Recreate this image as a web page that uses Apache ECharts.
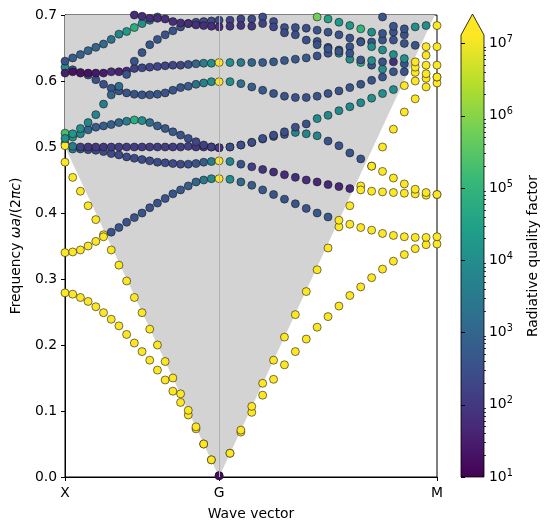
<!DOCTYPE html>
<html>
<head>
<meta charset="utf-8">
<script src="https://cdn.jsdelivr.net/npm/echarts@6/dist/echarts.min.js"></script>
<style>
  html, body { margin: 0; padding: 0; background: #fff; }
  #chart { width: 548px; height: 530px; }
</style>
</head>
<body>
<div id="chart"></div>
<script>
// k path X -> G -> M, 20 steps on each leg
const kNames = ["X", "G", "M"];
const stepsXG = 20, stepsGM = 20;
const lenXG = 0.5, lenGM = Math.SQRT1_2;
const kEnd = lenXG + lenGM;
const cbExponents = [1, 2, 3, 4, 5, 6, 7];
const QTOP = 7.12; // log10 of colour bar top

const N = null;
const Y = 8; // log10 Q above the colour range (guided modes)

// light line (frequency = |k|), in path coordinates
const lightLine = [[0, 0.5], [0.5, 0], [kEnd, lenGM]];

// band frequencies, 41 k points (index 20 = G)
const band1 = [0.279,0.277,0.272,0.266,0.258,0.249,0.239,0.229,0.216,0.203,0.190,0.177,0.162,0.147,0.130,0.113,0.094,0.073,0.050,0.026,0.002,
  0.036,0.068,0.098,0.124,0.148,0.170,0.190,0.209,0.227,0.243,0.259,0.275,0.288,0.302,0.315,0.327,0.337,0.346,0.352,0.353];
const band2 = [0.477,0.454,0.433,0.411,0.390,0.367,0.344,0.321,0.297,0.272,0.249,0.224,0.200,0.175,0.150,0.126,0.101,0.076,0.050,0.026,0.002,
  0.036,0.071,0.107,0.142,0.177,0.212,0.246,0.281,0.314,0.347,0.379,0.411,0.441,0.471,0.500,0.527,0.553,0.573,0.591,0.597];
const band3 = [0.340,0.341,0.344,0.350,0.357,0.364,0.371,0.378,0.386,0.393,0.400,0.408,0.415,0.422,0.429,0.435,0.441,0.447,0.450,0.452,0.452,
  0.451,0.447,0.442,0.435,0.428,0.421,0.414,0.407,0.400,0.394,0.389,0.383,0.378,0.374,0.369,0.366,0.364,0.363,0.363,0.364];
const band4 = [0.505,0.497,0.497,0.496,0.495,0.493,0.490,0.488,0.485,0.483,0.481,0.479,0.477,0.476,0.475,0.474,0.474,0.475,0.477,0.478,0.479,
  0.478,0.474,0.470,0.466,0.462,0.458,0.454,0.450,0.447,0.443,0.440,0.437,0.435,0.433,0.432,0.431,0.430,0.429,0.427,0.428];
const band5 = [0.502,0.501,0.500,0.500,0.500,0.500,0.500,0.500,0.500,0.500,0.500,0.500,0.500,0.500,0.500,0.500,0.501,0.500,0.500,0.500,0.499,
  0.500,0.503,0.507,0.512,0.516,0.519,0.522,0.520,0.517,0.509,0.502,0.491,0.482,0.471,0.463,0.453,0.444,0.436,0.431,0.428];
const band6 = [0.521,0.515,0.520,0.526,0.530,0.532,0.534,0.537,0.539,0.541,0.540,0.537,0.532,0.528,0.523,0.518,0.513,0.508,0.503,0.500,0.499,
  0.500,0.503,0.507,0.513,0.518,0.523,0.530,0.535,0.543,0.548,0.555,0.561,0.567,0.574,0.581,0.587,0.593,0.600,0.604,0.606];
const band7 = [0.621,0.617,0.613,0.609,0.602,0.595,0.589,0.585,0.582,0.580,0.579,0.579,0.580,0.582,0.586,0.590,0.592,0.595,0.597,0.599,0.599,
  0.599,0.596,0.591,0.586,0.581,0.577,0.575,0.575,0.577,0.581,0.585,0.590,0.595,0.601,0.606,0.614,0.614,0.613,0.611,0.606];
const band8 = [0.612,0.614,0.612,0.612,0.612,0.612,0.614,0.614,0.615,0.619,0.620,0.621,0.622,0.623,0.624,0.624,0.625,0.626,0.627,0.627,0.628,
  0.628,0.628,0.628,0.628,0.629,0.631,0.633,0.635,0.638,0.642,0.642,0.633,0.628,0.624,0.618,0.629,0.626,0.621,0.624,0.624];
const band9 = [0.513,0.520,0.528,0.537,0.549,0.565,0.579,0.592,0.610,0.630,0.643,0.655,0.663,0.670,0.676,0.682,0.687,0.689,0.690,0.691,0.692,
  0.692,0.694,0.694,0.697,0.690,0.681,0.681,0.680,0.677,0.674,0.670,0.665,0.660,0.659,0.662,0.674,0.670,N,N,N];
const band10 = [0.630,0.635,0.640,0.646,0.651,0.656,0.663,0.671,0.675,0.681,0.687,0.692,0.697,N,N,N,N,N,N,N,N,
  N,N,N,N,N,N,N,N,N,N,N,N,N,N,N,N,N,N,N,N];
const band11 = [N,N,N,N,N,N,N,N,N,0.700,0.698,0.695,0.695,0.694,0.690,0.688,0.687,0.685,0.684,0.683,0.682,
  0.683,0.684,0.683,0.687,0.682,0.673,0.670,0.662,0.660,0.651,0.647,0.652,0.659,0.652,0.647,0.662,0.657,0.654,0.652,0.652];
const band12 = [N,N,N,N,N,N,N,N,N,N,N,N,N,N,N,N,N,N,N,N,N,
  N,N,N,N,N,N,N,N,0.655,0.649,0.645,0.642,0.632,0.631,0.629,0.640,0.634,0.629,0.639,N];
const band13 = [N,N,N,N,N,N,N,N,N,N,N,N,N,N,N,N,N,N,N,N,N,
  N,N,N,N,N,N,N,N,0.697,0.694,0.689,0.684,0.679,0.674,0.672,0.683,0.679,0.682,0.684,0.684];
const band14 = [N,N,N,N,N,N,N,N,N,N,N,N,N,N,N,N,N,N,N,N,N,
  N,N,N,N,N,N,N,N,N,N,N,N,N,N,0.697,N,N,N,N,N];

// log10 radiative Q for the same points
const logQ1 = [Y,Y,Y,Y,Y,Y,Y,Y,Y,Y,Y,Y,Y,Y,Y,Y,Y,Y,Y,Y,1.2, Y,Y,Y,Y,Y,Y,Y,Y,Y,Y,Y,Y,Y,Y,Y,Y,Y,Y,Y,Y];
const logQ2 = [Y,Y,Y,Y,Y,Y,Y,Y,Y,Y,Y,Y,Y,Y,Y,Y,Y,Y,Y,Y,1.2, Y,Y,Y,Y,Y,Y,Y,Y,Y,Y,Y,Y,Y,Y,Y,Y,Y,Y,Y,Y];
const logQ3 = [Y,Y,Y,Y,Y,Y,2.6,2.6,2.6,2.6,2.6,2.6,2.6,2.6,2.6,2.7,2.8,3.0,3.4,3.9,Y,
  4.0,3.1,2.8,2.7,2.6,2.6,2.6,2.6,2.7,2.7,Y,Y,Y,Y,Y,Y,Y,Y,Y,Y];
const logQ4 = [3.8,3.6,2.8,2.5,2.4,2.4,2.4,2.4,2.4,2.4,2.4,2.4,2.4,2.4,2.4,2.4,2.5,2.6,2.8,3.6,Y,
  3.8,2.6,2.2,1.9,1.8,1.8,1.8,1.8,1.7,1.7,1.7,1.7,Y,Y,Y,Y,Y,Y,Y,Y];
const logQ5 = [Y,3.5,2.2,2.0,2.0,2.0,2.1,2.1,2.1,2.1,2.1,2.1,2.1,2.1,2.1,2.1,2.2,2.0,2.0,2.0,2.0,
  2.3,2.3,2.3,2.4,2.4,2.5,3.8,3.8,3.8,2.6,2.6,2.6,2.6,Y,Y,Y,Y,Y,Y,Y];
const logQ6 = [5.3,4.2,3.8,3.0,2.8,2.8,2.9,3.0,3.6,4.8,4.0,3.2,2.8,2.7,2.7,2.6,2.5,2.3,2.2,2.1,2.0,
  2.5,2.5,2.5,2.5,2.5,2.5,2.5,2.6,3.9,3.9,3.9,3.9,3.9,4.0,4.0,4.0,Y,Y,Y,Y];
const logQ7 = [4.0,3.0,2.6,2.6,2.5,2.5,2.6,2.6,2.6,2.6,2.6,2.6,2.6,2.6,2.6,2.6,2.8,3.2,3.6,4.0,Y,
  4.0,3.2,2.8,2.7,2.6,2.6,2.6,2.6,2.6,2.6,2.6,2.6,2.6,2.6,2.6,2.6,2.6,Y,Y,Y];
const logQ8 = [1.5,1.3,1.3,1.3,1.4,1.5,1.8,1.6,1.8,2.2,2.3,2.3,2.3,2.3,2.3,2.3,2.5,3.0,3.6,4.0,Y,
  4.0,3.5,3.0,2.8,2.7,2.7,2.7,2.7,2.6,2.6,4.0,4.0,5.0,2.6,4.0,1.8,2.6,Y,Y,Y];
const logQ9 = [4.0,4.2,4.0,3.8,3.8,3.5,3.0,3.2,2.6,2.6,2.6,2.6,2.6,2.6,2.6,2.5,2.5,2.4,2.4,2.4,2.4,
  2.3,2.3,2.4,2.5,2.5,2.5,2.5,2.5,2.6,2.6,2.6,2.6,2.6,2.6,2.6,2.6,2.6,N,N,N];
const logQ10 = [2.6,2.8,2.9,3.0,3.0,3.1,3.3,3.8,4.3,4.8,4.0,3.8,3.6,N,N,N,N,N,N,N,N,
  N,N,N,N,N,N,N,N,N,N,N,N,N,N,N,N,N,N,N,N];
const logQ11 = [N,N,N,N,N,N,N,N,N,1.8,1.8,1.8,1.8,1.8,1.8,1.8,1.8,1.8,1.8,1.8,1.8,
  1.9,1.9,2.0,2.2,2.3,2.4,2.5,2.5,2.6,2.6,2.6,2.6,2.6,4.0,4.0,2.6,2.6,2.6,Y,Y];
const logQ12 = [N,N,N,N,N,N,N,N,N,N,N,N,N,N,N,N,N,N,N,N,N,
  N,N,N,N,N,N,N,N,2.6,2.6,2.6,2.6,2.6,4.0,2.6,4.0,4.0,Y,Y,N];
const logQ13 = [N,N,N,N,N,N,N,N,N,N,N,N,N,N,N,N,N,N,N,N,N,
  N,N,N,N,N,N,N,N,5.8,4.5,4.2,4.2,5.0,4.0,2.6,2.6,2.6,4.0,4.0,Y];
const logQ14 = [N,N,N,N,N,N,N,N,N,N,N,N,N,N,N,N,N,N,N,N,N,
  N,N,N,N,N,N,N,N,N,N,N,N,N,N,2.6,N,N,N,N,N];

const bands = [band1, band2, band3, band4, band5, band6, band7, band8, band9, band10, band11, band12, band13, band14];
const logQs = [logQ1, logQ2, logQ3, logQ4, logQ5, logQ6, logQ7, logQ8, logQ9, logQ10, logQ11, logQ12, logQ13, logQ14];

const viridis = ["#440154", "#482878", "#3e4989", "#31688e", "#26828e",
  "#1f9e89", "#35b779", "#6ece58", "#b5de2b", "#fde725"];

function kAt(i) {
  return i <= stepsXG ? i * lenXG / stepsXG : lenXG + (i - stepsXG) * lenGM / stepsGM;
}

const chart = echarts.init(document.getElementById("chart"), null, { renderer: "canvas" });
const font = "DejaVu Sans";

const series = [{
  // light cone (grey above the light line)
  type: "line",
  data: lightLine,
  symbol: "none",
  silent: true,
  lineStyle: { width: 0 },
  areaStyle: { color: "#d3d3d3", opacity: 1, origin: "end" },
  z: 1,
  markLine: {
    silent: true,
    symbol: "none",
    label: { show: false },
    lineStyle: { color: "#b0b0b0", width: 1, type: "solid" },
    data: [{ xAxis: lenXG }],
  },
}];

bands.forEach((f, b) => {
  const data = [];
  f.forEach((v, i) => {
    if (v !== null) data.push([kAt(i), v, Math.min(logQs[b][i], QTOP)]);
  });
  series.push({
    type: "scatter",
    data: data,
    symbolSize: 8,
    clip: true,
    silent: true,
    itemStyle: { borderColor: "#1a1a1a", borderWidth: 0.6, opacity: 1 },
    z: 3,
  });
});

// minor ticks of the log colour bar
const cbMinor = [];
cbExponents.forEach((e) => {
  for (let m = 2; m <= 9; m++) {
    const v = e + Math.log10(m);
    if (v <= QTOP) cbMinor.push(v);
  }
});

const cbLeft = 461, cbTop = 35, cbWidth = 23, cbHeight = 442;

const option = {
  backgroundColor: "#fff",
  animation: false,
  textStyle: { fontFamily: font },
  grid: [
    { left: 65, top: 15, width: 372, height: 462, show: true, borderColor: "#000", borderWidth: 1, backgroundColor: "#fff" },
    { left: cbLeft, top: cbTop, width: cbWidth, height: cbHeight },
  ],
  xAxis: [
    {
      type: "value",
      min: 0,
      max: kEnd,
      name: "Wave vector",
      nameLocation: "middle",
      nameGap: 30,
      nameTextStyle: { fontFamily: font, fontSize: 13.9, color: "#000" },
      axisLine: { lineStyle: { color: "#000", width: 1 } },
      axisTick: { customValues: [0, lenXG, kEnd], length: 4, lineStyle: { color: "#000" } },
      axisLabel: {
        customValues: [0, lenXG, kEnd],
        formatter: (v) => (v < 0.25 ? kNames[0] : v < 0.8 ? kNames[1] : kNames[2]),
        fontFamily: font, fontSize: 13.9, color: "#000", margin: 9,
      },
      splitLine: { show: false },
    },
    { type: "value", gridIndex: 1, min: 0, max: 1, show: false },
  ],
  yAxis: [
    {
      type: "value",
      min: 0,
      max: 0.7,
      interval: 0.1,
      name: "Frequency {i|ωa}/(2{i|πc})",
      nameLocation: "middle",
      nameGap: 42,
      nameRotate: 90,
      nameTextStyle: {
        fontFamily: font, fontSize: 13.9, color: "#000",
        rich: { i: { fontFamily: font, fontSize: 13.9, fontStyle: "italic", color: "#000" } },
      },
      axisLine: { show: true, lineStyle: { color: "#000", width: 1 } },
      axisTick: { show: true, length: 4, lineStyle: { color: "#000" } },
      axisLabel: { formatter: (v) => v.toFixed(1), fontFamily: font, fontSize: 13.9, color: "#000", margin: 8 },
      splitLine: { show: false },
    },
    {
      type: "value",
      gridIndex: 1,
      min: 1,
      max: QTOP,
      position: "right",
      name: "Radiative quality factor",
      nameLocation: "middle",
      nameGap: 42,
      nameRotate: 90,
      nameTextStyle: { fontFamily: font, fontSize: 13.9, color: "#000" },
      axisLine: { show: false },
      splitLine: { show: false },
      axisTick: { customValues: cbExponents, length: 4, lineStyle: { color: "#000" } },
      axisLabel: {
        customValues: cbExponents,
        formatter: (v) => "10{s|" + Math.round(v) + "}",
        fontFamily: font, fontSize: 13.9, color: "#000", margin: 5,
        rich: { s: { fontFamily: font, fontSize: 9.7, color: "#000", verticalAlign: "top", padding: [0, 0, 8, 0] } },
      },
    },
    {
      type: "value",
      gridIndex: 1,
      min: 1,
      max: QTOP,
      position: "right",
      axisLine: { show: false },
      splitLine: { show: false },
      axisTick: { customValues: cbMinor, length: 2, lineStyle: { color: "#000", width: 0.8 } },
      axisLabel: { show: false },
    },
  ],
  visualMap: {
    show: false,
    type: "continuous",
    min: 1,
    max: QTOP,
    dimension: 2,
    seriesIndex: bands.map((_, b) => b + 1),
    inRange: { color: viridis },
  },
  graphic: [
    {
      type: "rect",
      shape: { x: cbLeft, y: cbTop, width: cbWidth, height: cbHeight },
      style: {
        fill: new echarts.graphic.LinearGradient(0, 1, 0, 0,
          viridis.map((c, i) => ({ offset: i / (viridis.length - 1), color: c }))),
      },
      silent: true,
    },
    {
      type: "polygon",
      shape: { points: [[cbLeft, cbTop], [cbLeft + cbWidth / 2, 14], [cbLeft + cbWidth, cbTop]] },
      style: { fill: viridis[viridis.length - 1] },
      silent: true,
    },
    {
      type: "polyline",
      shape: {
        points: [[cbLeft, cbTop + cbHeight], [cbLeft, cbTop], [cbLeft + cbWidth / 2, 14],
          [cbLeft + cbWidth, cbTop], [cbLeft + cbWidth, cbTop + cbHeight], [cbLeft, cbTop + cbHeight]],
      },
      style: { stroke: "#000", lineWidth: 0.8, fill: null },
      silent: true,
    },
  ],
  series: series,
};

chart.setOption(option);
</script>
</body>
</html>
